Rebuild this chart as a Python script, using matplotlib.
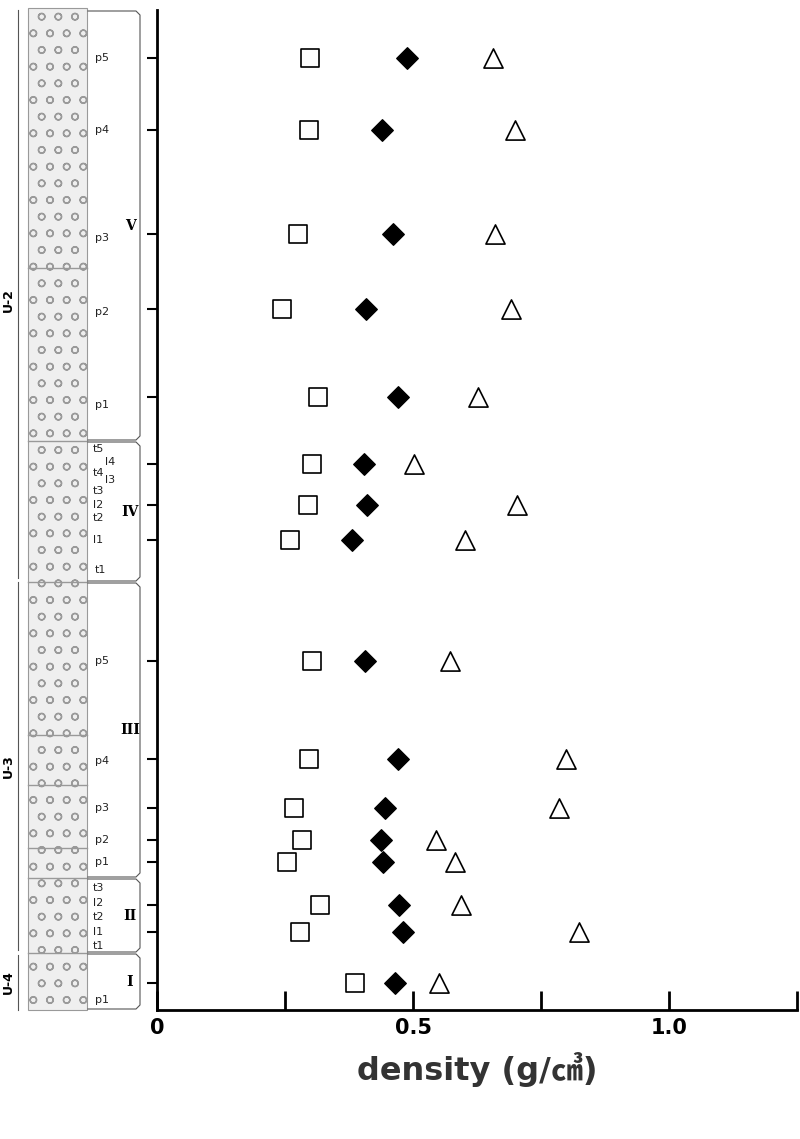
import matplotlib
matplotlib.use("Agg")
import matplotlib.pyplot as plt
from matplotlib.patches import Rectangle

# row positions (depth, in image rows) and densities per row
depth = [58, 130, 234, 309, 397, 464, 505, 540, 661, 759, 808, 840, 862, 905, 932, 983]
sq_vals = [0.298, 0.296, 0.275, 0.244, 0.314, 0.302, 0.294, 0.259, 0.302, 0.296, 0.267, 0.283, 0.253, 0.318, 0.279, 0.386]
dia_vals = [0.489, 0.439, 0.460, 0.409, 0.470, 0.404, 0.411, 0.380, 0.407, 0.470, 0.446, 0.437, 0.442, 0.472, 0.481, 0.464]
tri_vals = [0.657, 0.700, 0.661, 0.692, 0.626, 0.501, 0.704, 0.602, 0.573, 0.799, 0.786, 0.544, 0.583, 0.593, 0.825, 0.550]

xticks = [0, 0.25, 0.5, 0.75, 1.0, 1.25]
xticklabels = ["0", "", "0.5", "", "1.0", ""]

sub_labels = ["p5", "p4", "p3", "p2", "p1", "t5", "l4", "t4", "l3", "t3", "l2", "t2", "l1", "t1",
              "p5", "p4", "p3", "p2", "p1", "t3", "l2", "t2", "l1", "t1", "p1"]
sub_y = [58, 130, 238, 312, 405, 449, 462, 473, 480, 491, 505, 518, 540, 570,
         661, 761, 808, 840, 862, 888, 903, 917, 932, 946, 1000]
sub_x = [95, 95, 95, 95, 95, 93, 105, 93, 105, 93, 93, 93, 93, 95,
         95, 95, 95, 95, 95, 93, 93, 93, 93, 93, 95]
units = [("V", 10, 441), ("IV", 441, 582), ("III", 582, 878), ("II", 878, 953), ("I", 953, 1010)]
layer_breaks = [268, 441, 582, 735, 785, 848, 878, 953]
groups = [("U-2", 10, 578), ("U-3", 582, 950), ("U-4", 955, 1010)]

plt.rcParams["hatch.color"] = "#9a9a9a"
fig = plt.figure(figsize=(8, 11.39), dpi=100)
ax = fig.add_axes([157/800, 1-1010/1139, 640/800, 1000/1139])
ax.scatter(sq_vals, depth, marker="s", s=170, facecolor="white", edgecolor="black", linewidth=1.2, zorder=3)
ax.scatter(dia_vals, depth, marker="D", s=120, facecolor="black", edgecolor="black", zorder=3)
ax.scatter(tri_vals, depth, marker="^", s=190, facecolor="white", edgecolor="black", linewidth=1.2, zorder=3)
ax.set_xlim(0, 1.25)
ax.set_ylim(1010, 10)
ax.spines["top"].set_visible(False)
ax.spines["right"].set_visible(False)
ax.spines["left"].set_linewidth(2)
ax.spines["bottom"].set_linewidth(2)
ax.set_xticks(xticks)
ax.set_xticklabels(xticklabels, fontsize=15, fontweight="bold")
ax.tick_params(axis="x", direction="in", length=14, width=2, pad=6)
ax.set_yticks(depth)
ax.set_yticklabels([])
ax.tick_params(axis="y", direction="out", length=7, width=1.5)
ax.set_xlabel("density (g/㎤)", fontsize=23, fontweight="bold", color="#333333",
              family=["DejaVu Sans", "Noto Sans CJK SC"], labelpad=10)

# stratigraphic column drawn in image-pixel coordinates
ov = fig.add_axes([0, 0, 1, 1], facecolor="none")
ov.set_xlim(0, 800)
ov.set_ylim(1139, 0)
ov.axis("off")
ov.add_patch(Rectangle((28, 8), 59, 1002, facecolor="#efefef", edgecolor="#9a9a9a",
                       hatch="o", linewidth=0.8))
for b in layer_breaks:
    ov.plot([28, 87], [b, b], color="#999999", lw=1)
for lab, x, y in zip(sub_labels, sub_x, sub_y):
    ov.text(x, y, lab, fontsize=8, va="center", ha="left", color="#222222")
for lab, y0, y1 in units:
    ov.plot([88, 136, 140, 140, 136, 88], [y0 + 1, y0 + 1, y0 + 5, y1 - 5, y1 - 1, y1 - 1],
            color="#555555", lw=0.8)
    ov.text(130, (y0 + y1) / 2, lab, fontsize=10, fontweight="bold", ha="center", va="center",
            family="DejaVu Serif")
for lab, y0, y1 in groups:
    ov.plot([18, 18], [y0, y1], color="#555555", lw=0.8)
    ov.text(8, (y0 + y1) / 2 if lab != "U-2" else 300, lab, rotation=90, fontsize=9,
            fontweight="bold", ha="center", va="center")

fig.savefig("out.png", dpi=100)
